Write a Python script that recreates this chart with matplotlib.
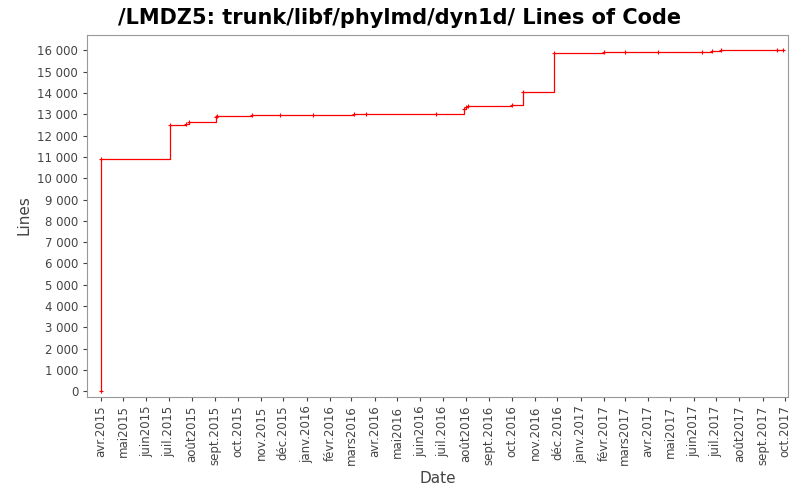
import matplotlib
matplotlib.use("Agg")
import matplotlib.pyplot as plt
import matplotlib.dates as mdates
import pandas as pd

dates = ["2015-04-01","2015-04-01","2015-07-02","2015-07-24","2015-07-28","2015-09-02","2015-09-04",
         "2015-10-20","2015-11-27","2016-01-10","2016-03-04","2016-03-20","2016-06-22","2016-07-29","2016-08-01",
         "2016-08-04","2016-10-01","2016-10-16","2016-11-26","2017-02-01","2017-03-01","2017-04-15",
         "2017-06-12","2017-06-25","2017-07-08","2017-09-20","2017-09-28"]
lines = [0,10900,12500,12550,12650,12880,12900,12950,12980,12990,13000,13000,13020,13250,13350,
         13400,13420,14050,15900,15910,15920,15930,15950,15960,16000,16000,16000]

months_fr = ["janv.","févr.","mars","avr.","mai","juin","juil.","août","sept.","oct.","nov.","déc."]

d = pd.to_datetime(dates)
fig = plt.figure(figsize=(8,5), dpi=100)
ax = fig.add_axes([0.109, 0.207, 0.876, 0.724])
ax.step(d, lines, where="post", color="red", lw=0.9)
ax.plot(d, lines, ls="none", marker="+", ms=3, color="red", mew=0.8)
ax.set_xlim(pd.Timestamp("2015-03-14"), pd.Timestamp("2017-10-05"))
ax.set_ylim(-250, 16750)
ax.set_yticks(range(0, 17000, 1000))
ax.yaxis.set_major_formatter(matplotlib.ticker.FuncFormatter(lambda v,p: f"{int(v):,}".replace(","," ")))
ax.xaxis.set_major_locator(mdates.MonthLocator())
ax.xaxis.set_major_formatter(matplotlib.ticker.FuncFormatter(
    lambda v,p: f"{months_fr[mdates.num2date(v).month-1]}{mdates.num2date(v).year}"))
for lab in ax.get_xticklabels():
    lab.set_rotation(90)
ax.tick_params(labelsize=8.5, colors="#444444", length=3)
for s in ax.spines.values():
    s.set_color("#999999")
ax.set_xlabel("Date", fontsize=11, color="#444444")
ax.set_ylabel("Lines", fontsize=11, color="#444444")
fig.suptitle("/LMDZ5: trunk/libf/phylmd/dyn1d/ Lines of Code", fontsize=15, fontweight="bold", y=0.985)
fig.savefig("out.png", dpi=100)
